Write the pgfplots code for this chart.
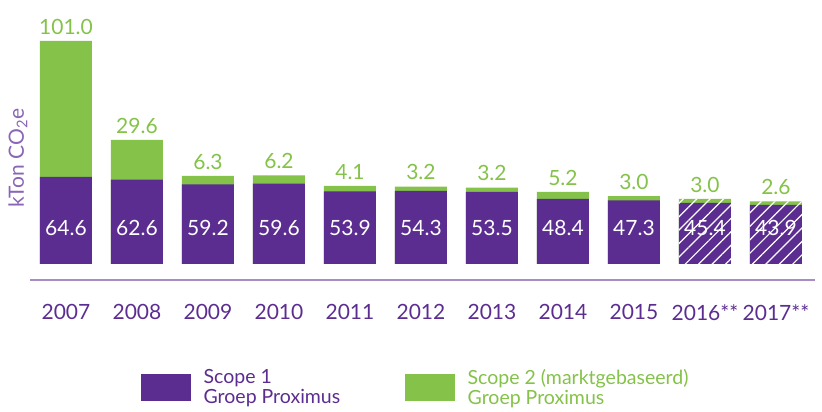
\documentclass[border=0pt]{standalone}
\usepackage{pgfplots}
\pgfplotsset{compat=1.18}
\usepackage{fontspec}
\setmainfont{Lato}
\usetikzlibrary{patterns.meta}
\definecolor{pxpurple}{HTML}{5C2D91}
\definecolor{pxgreen}{HTML}{84C249}
\definecolor{pxline}{HTML}{A88BC7}
\definecolor{pxlabel}{HTML}{8866B5}

\begin{document}
\begin{tikzpicture}
\path[use as bounding box] (0,0) rectangle (822pt,-412pt);
\begin{axis}[
  at={(30pt,-10pt)}, anchor=north west,
  scale only axis, width=785pt, height=270pt,
  ybar, bar shift=0pt, bar width=52pt,
  xmin=-0.507, xmax=10.55, ymin=-11.9, ymax=188.6,
  axis y line=none, axis x line=bottom,
  axis line style={-}, x axis line style={draw=pxline, line width=1.5pt},
  xtick={0,...,10},
  xticklabels={2007,2008,2009,2010,2011,2012,2013,2014,2015,2016**,2017**},
  major tick length=0pt,
  xticklabel style={font=\fontsize{21}{24}\selectfont, text=pxpurple, yshift=-21pt},
  /pgf/number format/assume math mode=true,
  legend columns=2,
  legend style={at={(axis description cs:0.1414,-0.322)}, anchor=north west,
    draw=none, fill=none, inner sep=0pt, font=\fontsize{19.5}{20}\selectfont,
    cells={align=left},
    /tikz/every odd column/.append style={column sep=11pt},
    /tikz/every even column/.append style={column sep=63pt}},
  legend cell align=left,
]
% totals (scope 1 + scope 2), drawn first so the green top shows
\addplot[fill=pxgreen, draw=none, forget plot, nodes near coords, point meta=explicit symbolic,
  every node near coord/.append style={text=pxgreen, font=\fontsize{21}{24}\selectfont, yshift=3pt}]
  coordinates {(0,165.6)[101.0] (1,92.2)[29.6] (2,65.5)[6.3] (3,65.8)[6.2] (4,58.0)[4.1]
    (5,57.5)[3.2] (6,56.7)[3.2] (7,53.6)[5.2] (8,50.3)[3.0] (9,48.4)[3.0] (10,46.5)[2.6]};
% scope 1
\addplot[fill=pxpurple, draw=none, forget plot]
  coordinates {(0,64.6) (1,62.6) (2,59.2) (3,59.6) (4,53.9) (5,54.3) (6,53.5) (7,48.4)
    (8,47.3) (9,45.4) (10,43.9)};
% hatch on the estimated years
\addplot[draw=none, forget plot, pattern={Lines[angle=45,distance=9.5pt,line width=1.2pt]},
  pattern color=white]
  coordinates {(9,48.4) (10,46.5)};
% scope 1 value labels
\addplot[draw=none, fill=none, forget plot, nodes near coords, point meta=explicit symbolic,
  every node near coord/.append style={anchor=center, text=white, font=\fontsize{21}{24}\selectfont}]
  coordinates {(0,26.7)[64.6] (1,26.7)[62.6] (2,26.7)[59.2] (3,26.7)[59.6] (4,26.7)[53.9]
    (5,26.7)[54.3] (6,26.7)[53.5] (7,26.7)[48.4] (8,26.7)[47.3] (9,26.7)[45.4] (10,26.7)[43.9]};
\addlegendimage{legend image code/.code={\fill[pxpurple] (0pt,-13pt) rectangle (49pt,13pt);}}
\addlegendentry[text=pxpurple]{Scope 1\\Groep Proximus}
\addlegendimage{legend image code/.code={\fill[pxgreen] (0pt,-13pt) rectangle (49pt,13pt);}}
\addlegendentry[text=pxgreen]{Scope 2 (marktgebaseerd)\\Groep Proximus}
\end{axis}
\node[rotate=90, text=pxlabel, font=\fontsize{21}{24}\selectfont] at (18pt,-158pt) {kTon CO\textsubscript{2}e};
\end{tikzpicture}
\end{document}
